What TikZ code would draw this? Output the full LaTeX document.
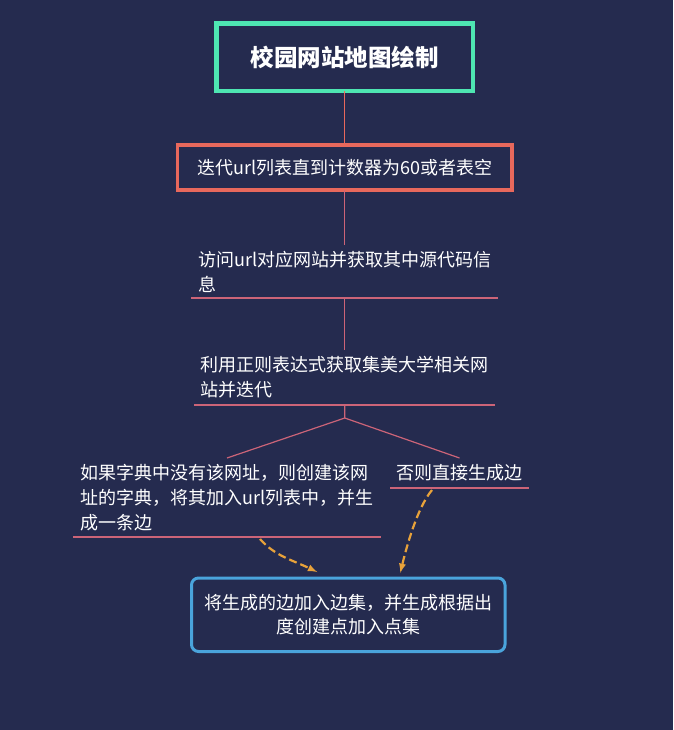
\documentclass[tikz,border=0pt]{standalone}
\usepackage{fontspec}
\setmainfont{Noto Sans CJK SC}
\usetikzlibrary{positioning}

\definecolor{bgnavy}{RGB}{37,43,79}
\definecolor{titlegreen}{RGB}{78,230,178}
\definecolor{itersalmon}{RGB}{232,104,92}
\definecolor{linkpink}{RGB}{204,100,120}
\definecolor{mergeblue}{RGB}{74,164,220}
\definecolor{flowamber}{RGB}{232,162,58}

\begin{document}
\begin{tikzpicture}[x=1pt, y=-1pt,
  every node/.style={text=white, outer sep=0pt},
  titlebox/.style={draw=titlegreen, line width=4.5pt, minimum width=256.5pt,
    minimum height=67.5pt, font=\fontsize{23.5}{28}\selectfont\bfseries},
  iterbox/.style={draw=itersalmon, line width=3.5pt, minimum width=334.5pt,
    minimum height=45pt, font=\fontsize{18}{25}\selectfont},
  topic/.style={align=left, inner ysep=0pt, font=\fontsize{18}{25}\selectfont},
  mergebox/.style={draw=mergeblue, line width=3pt, rounded corners=7pt,
    minimum width=313.5pt, minimum height=73.5pt, align=center,
    font=\fontsize{18}{23.5}\selectfont},
  link/.style={draw=linkpink, line width=1.2pt},
  uline/.style={draw=linkpink, line width=1.5pt},
  flow/.style={draw=flowamber, line width=2.2pt, dash pattern=on 8pt off 4pt, -latex},
]

  % Background
  \fill[bgnavy] (0,0) rectangle (673,730);

  % Define nodes
  \node[titlebox] (title) at (344.75,57.25) {校园网站地图绘制};
  \node[iterbox, below=54pt of title] (iter) {迭代url列表直到计数器为60或者表空};
  \node[topic, minimum width=307pt, minimum height=53pt, below=55pt of iter] (visit)
    {访问url对应网站并获取其中源代码信\\息};
  \node[topic, minimum width=301pt, minimum height=55pt, below=52pt of visit] (regex)
    {利用正则表达式获取集美大学相关网\\站并迭代};
  \coordinate[below=13pt of regex] (fork);
  \node[topic, minimum width=308pt, minimum height=79pt, anchor=north] (leafA) at (227,458)
    {如果字典中没有该网址，则创建该网\\址的字典，将其加入url列表中，并生\\成一条边};
  \node[topic, minimum width=139pt, minimum height=30pt, anchor=north] (leafB) at (459.5,458)
    {否则直接生成边};
  \node[mergebox] (merge) at (348.25,614.75)
    {将生成的边加入边集，并生成根据出\\度创建点加入点集};

  % Connect nodes
  \draw[link, draw=itersalmon] (title) -- (iter);
  \draw[link] (iter) -- (visit);
  \draw[link] (visit.south) -- (regex);
  \draw[link] (regex.south) -- (fork) -- (leafA.north);
  \draw[link] (fork) -- (leafB.north);

  % Underlines
  \draw[uline] (visit.south west) -- (visit.south east);
  \draw[uline] (regex.south west) -- (regex.south east);
  \draw[uline] (leafA.south west) -- (leafA.south east);
  \draw[uline] (leafB.south west) -- (leafB.south east);

  % Flows into the edge set
  \draw[flow] ([xshift=33pt,yshift=-2pt]leafA.south) .. controls +(15,17) and +(-25,-12)
    .. ([xshift=-31pt,yshift=6pt]merge.north);
  \draw[flow] ([xshift=-27.5pt,yshift=-2pt]leafB.south) .. controls +(-15,18) and +(6,-25)
    .. ([xshift=52pt,yshift=5pt]merge.north);

\end{tikzpicture}
\end{document}
